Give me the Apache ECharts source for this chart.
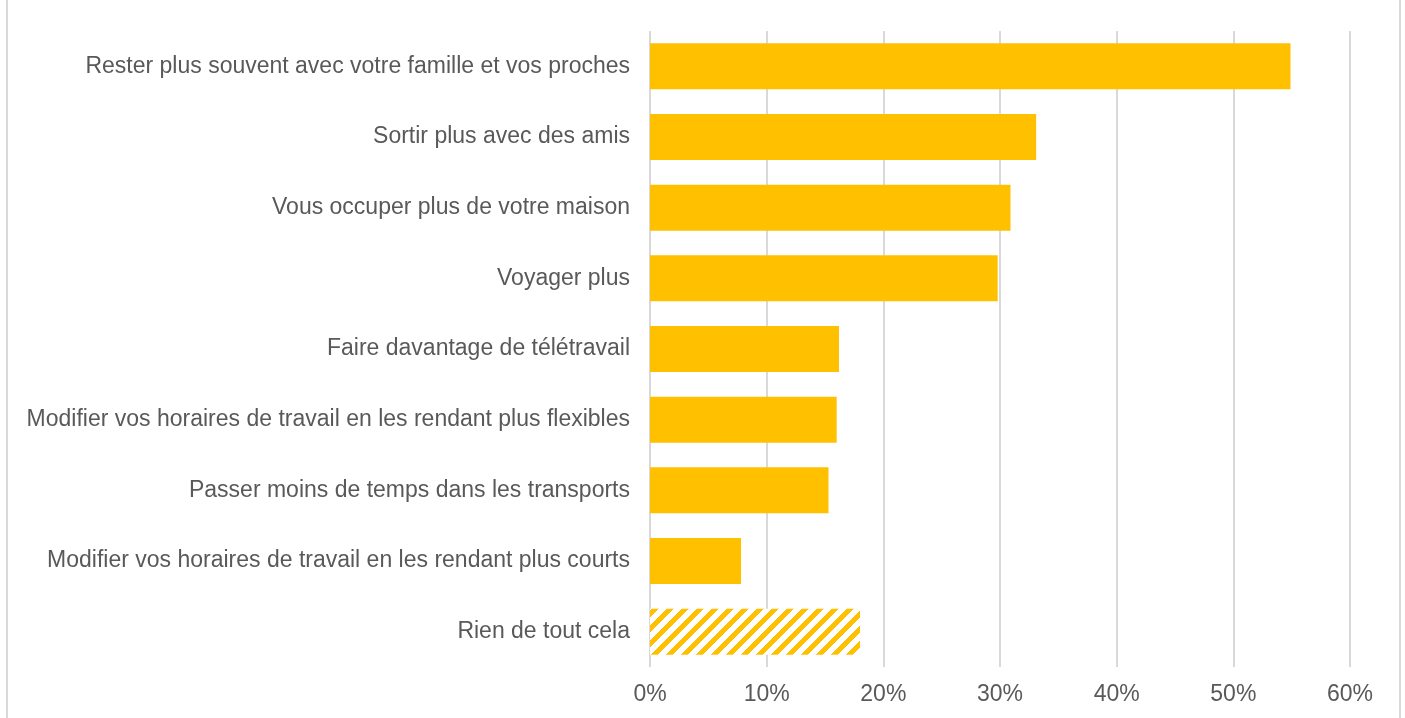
<!DOCTYPE html>
<html>
<head>
<meta charset="utf-8">
<script src="https://cdn.jsdelivr.net/npm/echarts@6/dist/echarts.min.js"></script>
<style>
  html, body { margin: 0; padding: 0; background: #fff; }
  #chart { width: 1405px; height: 718px; }
</style>
</head>
<body>
<div id="chart"></div>
<script>
const categories = [
  'Rester plus souvent avec votre famille et vos proches',
  'Sortir plus avec des amis',
  'Vous occuper plus de votre maison',
  'Voyager plus',
  'Faire davantage de télétravail',
  'Modifier vos horaires de travail en les rendant plus flexibles',
  'Passer moins de temps dans les transports',
  'Modifier vos horaires de travail en les rendant plus courts',
  'Rien de tout cela'
]
const values = [54.9, 33.1, 30.9, 29.8, 16.2, 16.0, 15.3, 7.8, 18.0]
const hatched = [false, false, false, false, false, false, false, false, true]
const xTicks = [0, 10, 20, 30, 40, 50, 60]

// hachures jaunes pour "Rien de tout cela" (motif pixel, sans raccord visible)
function makeHatch() {
  const size = 15
  const c = document.createElement('canvas')
  c.width = size
  c.height = size
  const ctx = c.getContext('2d')
  const img = ctx.createImageData(size, size)
  for (let y = 0; y < size; y++) {
    for (let x = 0; x < size; x++) {
      const k = (y * size + x) * 4
      const on = ((x + y) % size) < 7
      img.data[k] = on ? 255 : 255
      img.data[k + 1] = on ? 192 : 255
      img.data[k + 2] = on ? 0 : 255
      img.data[k + 3] = 255
    }
  }
  ctx.putImageData(img, 0, 0)
  return c
}
const hatch = makeHatch()

const chart = echarts.init(document.getElementById('chart'))
chart.setOption({
  animation: false,
  grid: {
    left: 650,
    right: 55,
    top: 31,
    bottom: 51
  },
  xAxis: {
    type: 'value',
    min: xTicks[0],
    max: xTicks[xTicks.length - 1],
    interval: 10,
    axisLine: { show: false },
    axisTick: { show: false },
    axisLabel: {
      formatter: '{value}%',
      color: '#595959',
      fontFamily: 'Liberation Sans, Arial, sans-serif',
      fontSize: 23,
      margin: 16
    },
    splitLine: {
      lineStyle: { color: '#d9d9d9', width: 2 }
    }
  },
  yAxis: {
    type: 'category',
    inverse: true,
    data: categories,
    axisLine: { show: false },
    axisTick: { show: false },
    axisLabel: {
      color: '#595959',
      fontFamily: 'Liberation Sans, Arial, sans-serif',
      fontSize: 23,
      margin: 20
    }
  },
  series: [{
    type: 'bar',
    barWidth: '65%',
    data: values.map((v, i) => ({
      value: v,
      itemStyle: hatched[i]
        ? { color: { image: hatch, repeat: 'repeat' } }
        : { color: '#FFC000' }
    }))
  }],
  graphic: [
    { type: 'line', shape: { x1: 7, y1: 0, x2: 7, y2: 718 }, style: { stroke: '#d9d9d9', lineWidth: 2 } },
    { type: 'line', shape: { x1: 1400, y1: 0, x2: 1400, y2: 718 }, style: { stroke: '#d9d9d9', lineWidth: 2 } }
  ]
})
</script>
</body>
</html>
